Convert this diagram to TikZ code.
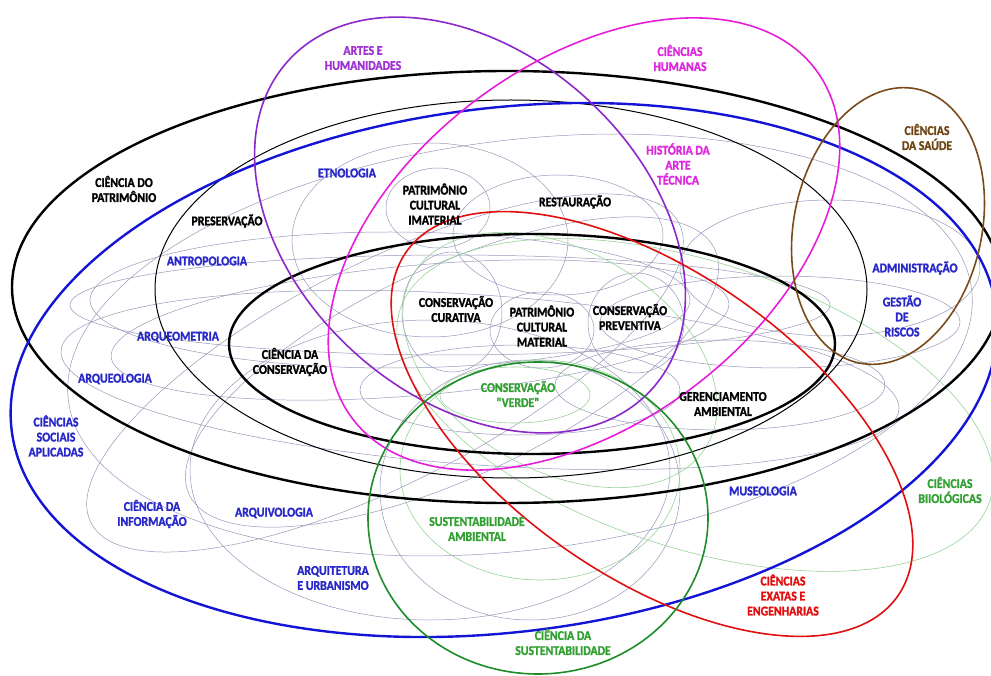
\documentclass[tikz,border=0pt]{standalone}
\usepackage{fontspec}
\setmainfont{Carlito}
\newfontfamily\rotulofonte{Carlito Bold}[FakeBold=1.6, FakeStretch=0.88]
\usepackage{tikz}
\definecolor{azul}{RGB}{20,20,215}
\definecolor{roxo}{RGB}{140,40,200}
\definecolor{magenta2}{RGB}{230,30,220}
\definecolor{vermelho}{RGB}{225,15,15}
\definecolor{verde}{RGB}{30,140,40}
\definecolor{marrom}{RGB}{120,75,25}
\definecolor{verdeclaro}{RGB}{150,210,150}
\definecolor{cinza}{RGB}{150,150,185}
\definecolor{azultxt}{RGB}{40,40,200}
\definecolor{verdetxt}{RGB}{50,160,50}
\definecolor{roxotxt}{RGB}{160,50,210}
\definecolor{magentatxt}{RGB}{220,40,220}
\definecolor{marromtxt}{RGB}{110,70,20}
\tikzstyle{grande} = [line width=2.4pt]
\tikzstyle{area} = [line width=1.6pt]
\tikzstyle{sub} = [line width=0.5pt, color=cinza]
\tikzstyle{finoverde} = [line width=0.6pt, color=verdeclaro]
\tikzstyle{rotulo} = [font=\rotulofonte\fontsize{13.4}{15}\selectfont, align=center, inner sep=0pt]

\begin{document}
\begin{tikzpicture}[x=1pt,y=-1pt]
	\useasboundingbox (0,0) rectangle (991,676);
	\clip (0,0) rectangle (991,676);
	% subareas (linhas finas)
	\draw[sub] (438,208) ellipse [x radius=52, y radius=40];
	\draw[sub] (558,235) ellipse [x radius=105, y radius=60];
	\draw[sub] (452,312) ellipse [x radius=50, y radius=60];
	\draw[sub] (542,330) ellipse [x radius=52, y radius=38];
	\draw[sub] (636,323) ellipse [x radius=48, y radius=50];
	\draw[sub] (430,240) ellipse [x radius=138, y radius=97];
	\draw[sub] (390,300) ellipse [x radius=300, y radius=68];
	\draw[sub] (450,305) ellipse [x radius=380, y radius=50];
	\draw[sub, rotate around={5:(420,330)}] (420,330) ellipse [x radius=310, y radius=65];
	\draw[sub, rotate around={-4:(480,380)}] (480,380) ellipse [x radius=420, y radius=85];
	\draw[sub, rotate around={27:(385,373)}] (385,373) ellipse [x radius=330, y radius=110];
	\draw[sub, rotate around={25:(452,372)}] (452,372) ellipse [x radius=290, y radius=105];
	\draw[sub] (430,470) ellipse [x radius=240, y radius=150];
	\draw[sub, rotate around={7:(520,345)}] (520,345) ellipse [x radius=455, y radius=205];
	\draw[sub] (830,268) ellipse [x radius=150, y radius=68];
	\draw[sub] (780,322) ellipse [x radius=180, y radius=46];
	\draw[sub] (720,385) ellipse [x radius=165, y radius=45];
	\draw[sub] (520,390) ellipse [x radius=160, y radius=45];
	\draw[sub] (530,490) ellipse [x radius=150, y radius=130];
	% verdes finas
	\draw[finoverde] (515,395) ellipse [x radius=75, y radius=28];
	\draw[finoverde, rotate around={-30:(560,360)}] (560,360) ellipse [x radius=170, y radius=110];
	\draw[finoverde] (540,470) ellipse [x radius=140, y radius=110];
	\draw[finoverde, rotate around={-18:(695,405)}] (695,405) ellipse [x radius=310, y radius=143];
	% grandes areas
	\draw[line width=1pt] (511,289) ellipse [x radius=356, y radius=189];
	\draw[grande] (532,344) ellipse [x radius=303, y radius=110];
	\draw[grande] (507,287) ellipse [x radius=495, y radius=216];
	\draw[grande, azul, rotate around={7:(504,370)}] (504,370) ellipse [x radius=496, y radius=262];
	\draw[area, roxo, rotate around={-42:(470,225)}] (470,225) ellipse [x radius=245, y radius=172];
	\draw[area, magenta2, rotate around={37:(584,244)}] (584,244) ellipse [x radius=290, y radius=180];
	\draw[area, vermelho, rotate around={-35:(652,424)}] (652,424) ellipse [x radius=300, y radius=152];
	\draw[area, verde] (538,518) ellipse [x radius=170, y radius=156];
	\draw[area, marrom, rotate around={-12:(888,226)}] (888,226) ellipse [x radius=94, y radius=140];
	% rotulos
	\node[rotulo, text=roxotxt] (artes) at (363,58) {ARTES E\\HUMANIDADES};
	\node[rotulo, text=magentatxt] (humanas) at (680,58) {CIÊNCIAS\\HUMANAS};
	\node[rotulo, text=marromtxt] (saude) at (927,137) {CIÊNCIAS\\DA SAÚDE};
	\node[rotulo] (patrimonio) at (124,189) {CIÊNCIA DO\\PATRIMÔNIO};
	\node[rotulo] (preservacao) at (227,221) {PRESERVAÇÃO};
	\node[rotulo, text=azultxt] (etnologia) at (347,173) {ETNOLOGIA};
	\node[rotulo] (imaterial) at (435,204) {PATRIMÔNIO\\CULTURAL\\IMATERIAL};
	\node[rotulo] (restauracao) at (575,202) {RESTAURAÇÃO};
	\node[rotulo, text=magentatxt] (historia) at (678,164) {HISTÓRIA DA\\ARTE\\TÉCNICA};
	\node[rotulo, text=azultxt] (antropologia) at (207,261) {ANTROPOLOGIA};
	\node[rotulo] (curativa) at (456,309) {CONSERVAÇÃO\\CURATIVA};
	\node[rotulo] (material) at (542,326) {PATRIMÔNIO\\CULTURAL\\MATERIAL};
	\node[rotulo] (preventiva) at (630,317) {CONSERVAÇÃO\\PREVENTIVA};
	\node[rotulo, text=azultxt] (administracao) at (915,268) {ADMINISTRAÇÃO};
	\node[rotulo, text=azultxt] (riscos) at (902,316) {GESTÃO\\DE\\RISCOS};
	\node[rotulo, text=azultxt] (arqueometria) at (178,337) {ARQUEOMETRIA};
	\node[rotulo] (conservacao) at (290,362) {CIÊNCIA DA\\CONSERVAÇÃO};
	\node[rotulo, text=azultxt] (arqueologia) at (115,379) {ARQUEOLOGIA};
	\node[rotulo, text=verdetxt] (verde) at (518,394) {CONSERVAÇÃO\\"VERDE"};
	\node[rotulo] (gerenciamento) at (723,404) {GERENCIAMENTO\\AMBIENTAL};
	\node[rotulo, text=azultxt] (sociais) at (56,436) {CIÊNCIAS\\SOCIAIS\\APLICADAS};
	\node[rotulo, text=azultxt] (museologia) at (763,491) {MUSEOLOGIA};
	\node[rotulo, text=verdetxt] (biologicas) at (950,490) {CIÊNCIAS\\BIIOLÓGICAS};
	\node[rotulo, text=azultxt] (informacao) at (152,514) {CIÊNCIA DA\\INFORMAÇÃO};
	\node[rotulo, text=azultxt] (arquivologia) at (274,513) {ARQUIVOLOGIA};
	\node[rotulo, text=verdetxt] (ambiental) at (477,529) {SUSTENTABILIDADE\\AMBIENTAL};
	\node[rotulo, text=azultxt] (arquitetura) at (333,578) {ARQUITETURA\\E URBANISMO};
	\node[rotulo, text=vermelho] (exatas) at (783,595) {CIÊNCIAS\\EXATAS E\\ENGENHARIAS};
	\node[rotulo, text=verdetxt] (sustentabilidade) at (563,642) {CIÊNCIA DA\\SUSTENTABILIDADE};
\end{tikzpicture}
\end{document}
